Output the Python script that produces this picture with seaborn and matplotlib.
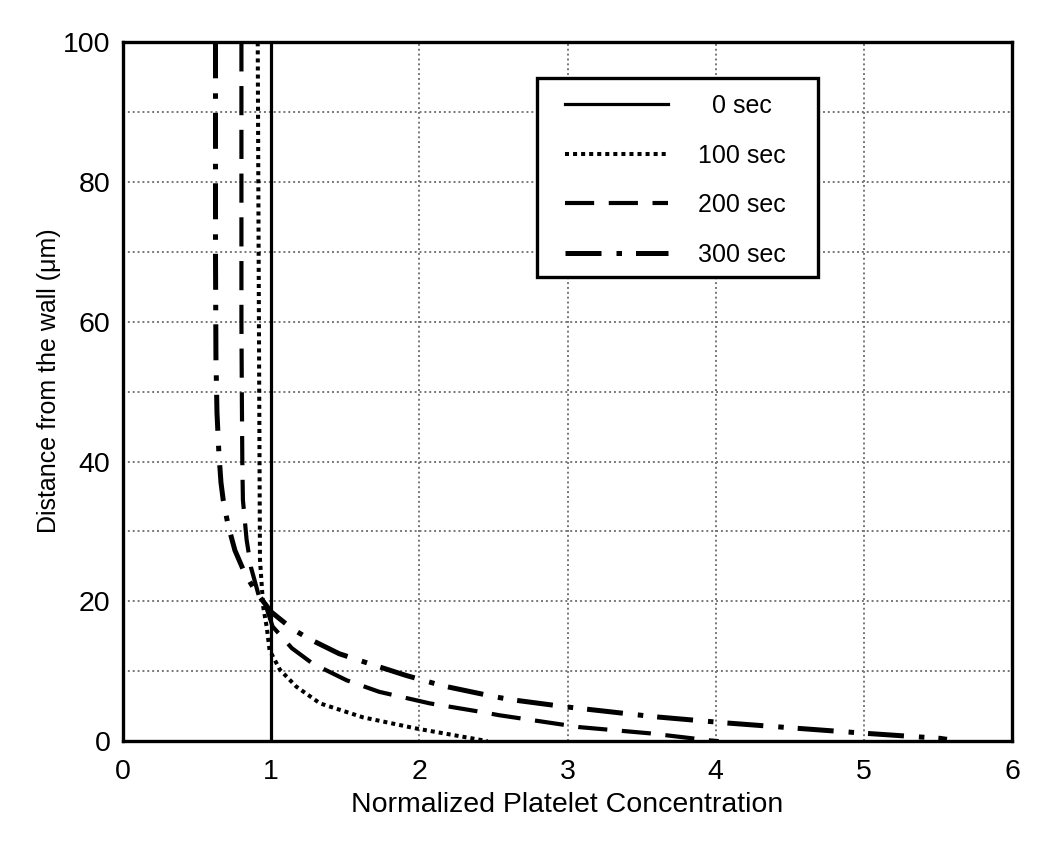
import numpy as np
import pandas as pd
import seaborn as sns
import matplotlib.pyplot as plt
from matplotlib.patches import Rectangle
from matplotlib.ticker import MultipleLocator

# values (x = normalized concentration, y = distance in um)
y_0s = [0, 100]
x_0s = [1.0, 1.0]

y_100s = [100, 50, 26, 19.2, 16.4, 13, 10.2, 7.8, 5.4, 3.4, 1.8, 0.6, 0]
x_100s = [0.91, 0.92, 0.925, 0.947, 0.97, 0.99, 1.06, 1.17, 1.33, 1.62, 1.98, 2.30, 2.46]

y_200s = [100, 60, 48.8, 40, 34.5, 28.8, 24.9, 20.2, 19, 16.4, 13.3, 11.1, 8.7, 7.05, 5.4, 4.2, 3.7, 2.0, 1.1, 0.1, 0]
x_200s = [0.80, 0.80, 0.803, 0.806, 0.81, 0.835, 0.864, 0.925, 0.97, 1.01, 1.14, 1.28, 1.51, 1.73, 2.07, 2.41, 2.54,
          3.08, 3.56, 3.96, 4.02]

y_300s = [100, 70, 55, 47, 41.2, 37, 34.5, 30.9, 27.3, 24.0, 21.6, 18.5, 16.1, 14.7, 12.5, 10.9, 9.4, 7.9, 6.3,
          5.9, 4.9, 3.5, 2.6, 1.8, 1.1, 0.4, 0.25]
x_300s = [0.625, 0.625, 0.628, 0.635, 0.648, 0.662, 0.677, 0.71, 0.756, 0.823, 0.89, 1.0, 1.14, 1.25, 1.46, 1.69,
          1.91, 2.16, 2.52, 2.63, 2.99, 3.58, 4.07, 4.57, 5.02, 5.51, 5.56]

labels = ['0 sec', '100 sec', '200 sec', '300 sec']

plt.rcParams['font.family'] = ['Liberation Sans', 'DejaVu Sans']

fig = plt.figure(figsize=(10.5, 8.46), dpi=100)
ax = fig.add_axes([0.117, 0.124, 0.847, 0.826])

series = [
    (x_0s, y_0s, '  ' + labels[0], dict(lw=2.3, linestyle='-')),
    (x_100s, y_100s, labels[1], dict(lw=2.9, dashes=(1.0, 1.0), dash_capstyle='butt')),
    (x_200s, y_200s, labels[2], dict(lw=3.0, dashes=(7.0, 3.5))),
    (x_300s, y_300s, labels[3], dict(lw=3.6, dashes=(7.2, 3.0, 1.1, 2.8))),
]

for xs, ys, lab, style in series:
    df = pd.DataFrame({'x': xs, 'y': ys})
    sns.lineplot(data=df, x='x', y='y', sort=False, estimator=None, color='black',
                 label=lab, ax=ax, **style)

ax.set_xlim(0, 6)
ax.set_ylim(0, 100)
ax.xaxis.set_major_locator(MultipleLocator(1))
ax.yaxis.set_major_locator(MultipleLocator(20))
ax.yaxis.set_minor_locator(MultipleLocator(10))
ax.grid(which='both', color='#777777', linestyle=(0, (1, 1.5)), linewidth=1.4)
ax.tick_params(which='both', length=0, labelsize=20.5)
ax.tick_params(axis='x', pad=13)
ax.tick_params(axis='y', pad=9)
for s in ax.spines.values():
    s.set_linewidth(2.4)
    s.set_color('black')

ax.set_xlabel('Normalized Platelet Concentration', fontsize=20.5, labelpad=5)
ax.set_ylabel('Distance from the wall (\u03bcm)', fontsize=18, labelpad=1)
ax.yaxis.label.set_y(0.516)

# legend frame drawn separately so its padding matches the original box
ax.add_patch(Rectangle((0.4657, 0.6638), 0.316, 0.2847, transform=ax.transAxes,
                       facecolor='white', edgecolor='black', linewidth=2.4, zorder=4))
leg = ax.legend(loc='upper left', bbox_to_anchor=(0.4972, 0.9257), fontsize=18,
                handlelength=4.1, handletextpad=1.2, labelspacing=1.02,
                borderpad=0, borderaxespad=0, frameon=False)
leg.set_zorder(5)

plt.savefig('out.png', dpi=100)
plt.close()
